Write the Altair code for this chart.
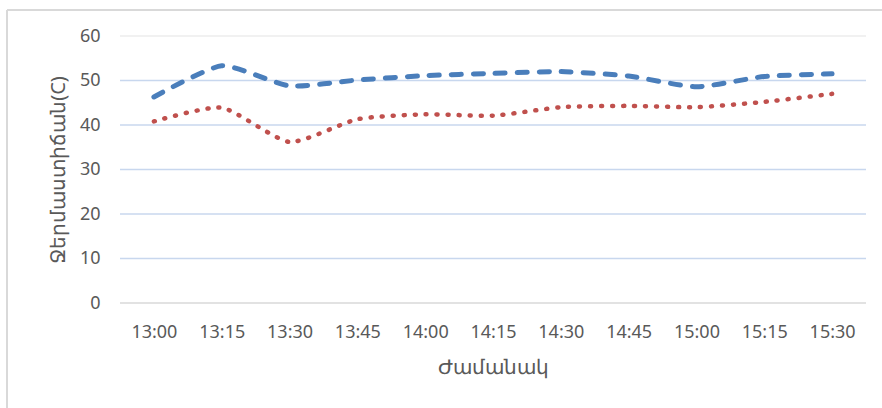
import altair as alt
import pandas as pd

times = ["13:00", "13:15", "13:30", "13:45", "14:00", "14:15", "14:30", "14:45", "15:00", "15:15", "15:30"]
series_a = [46.3, 53.3, 48.8, 50.1, 51.1, 51.6, 52.0, 51.0, 48.6, 50.9, 51.5]
series_b = [40.8, 43.9, 36.2, 41.3, 42.4, 42.1, 44.0, 44.3, 44.0, 45.2, 47.0]
grid_vals = [10, 20, 30, 40, 50]

df_a = pd.DataFrame({"t": times, "v": series_a})
df_b = pd.DataFrame({"t": times, "v": series_b})
df_g = pd.DataFrame({"g": grid_vals})

FONT = "Noto Sans"
x_enc = alt.X("t:N", sort=times, title="Ժամանակ",
              scale=alt.Scale(paddingInner=0, paddingOuter=0.5),
              axis=alt.Axis(labelAngle=0, labelFontSize=18, labelColor="#595959",
                            labelFont=FONT, labelPadding=20, domain=False, ticks=False,
                            grid=False,
                            titleFontSize=20, titleColor="#595959", titleFont=FONT,
                            titleFontWeight="normal", titlePadding=16))
y_enc = alt.Y("v:Q", title="Ջերմաստիճան(C)",
              scale=alt.Scale(domain=[0, 60], nice=False),
              axis=alt.Axis(values=[0, 10, 20, 30, 40, 50, 60], labelFontSize=18,
                            labelColor="#595959", labelFont=FONT, labelPadding=20,
                            domain=False, ticks=False, grid=False,
                            titleFontSize=20, titleColor="#595959", titleFont=FONT,
                            titleFontWeight="normal", titlePadding=11))

grid_blue = alt.Chart(df_g).mark_rule(color="#c8d7ee", strokeWidth=1.5).encode(
    y=alt.Y("g:Q", scale=alt.Scale(domain=[0, 60], nice=False)),
    x=alt.value(0), x2=alt.value(746))
grid_top = alt.Chart(pd.DataFrame({"g": [60]})).mark_rule(color="#ececec", strokeWidth=1.5).encode(
    y=alt.Y("g:Q"), x=alt.value(0), x2=alt.value(746))
grid_zero = alt.Chart(pd.DataFrame({"g": [0]})).mark_rule(color="#d9d9d9", strokeWidth=1.5).encode(
    y=alt.Y("g:Q"), x=alt.value(0), x2=alt.value(746))

line_a = alt.Chart(df_a).mark_line(
    color="#4a7ebb", strokeWidth=5, strokeDash=[10, 12], strokeCap="round",
    interpolate="cardinal", tension=0.4
).encode(x=x_enc, y=y_enc)

line_b = alt.Chart(df_b).mark_line(
    color="#c0504d", strokeWidth=4.5, strokeDash=[1, 10], strokeCap="round",
    interpolate="cardinal", tension=0.4
).encode(x=x_enc, y=y_enc)

frame_top = alt.Chart(df_a).mark_rule(color="#d9d9d9", strokeWidth=1.5).encode(
    x=alt.value(-113), x2=alt.value(780), y=alt.value(-26))
frame_left = alt.Chart(df_a).mark_rule(color="#d9d9d9", strokeWidth=1.5).encode(
    x=alt.value(-113), y=alt.value(-26), y2=alt.value(400))

chart = alt.layer(grid_blue, grid_top, grid_zero, line_a, line_b, frame_top, frame_left).properties(
    width=746, height=267,
    background="white",
    autosize=alt.AutoSizeParams(type="none"),
    padding={"left": 120, "top": 36, "right": 16, "bottom": 105},
).configure_view(stroke=None)

chart.save("out.html", embed_options={"renderer": "svg", "actions": False})
